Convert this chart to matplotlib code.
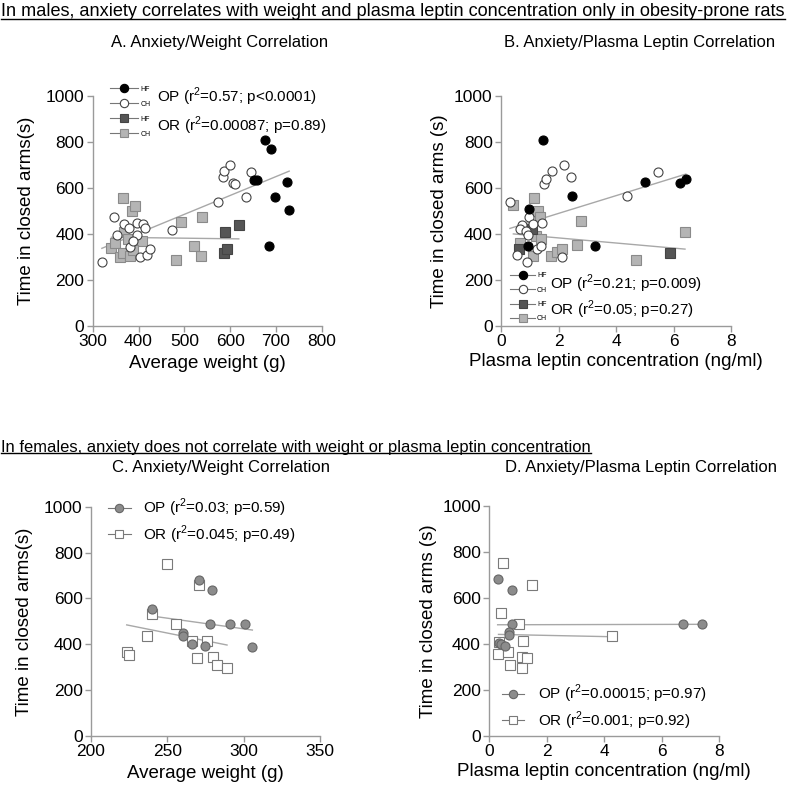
import numpy as np
import matplotlib
matplotlib.use("Agg")
import matplotlib.pyplot as plt
from matplotlib.lines import Line2D

plt.rcParams['font.family'] = ['Liberation Sans', 'DejaVu Sans']
plt.rcParams['mathtext.fontset'] = 'custom'
plt.rcParams['mathtext.rm'] = 'Liberation Sans'

# ---- A. males, anxiety vs weight ----
a_op_hf_x = [676, 689, 653, 659, 724, 697, 729, 686]
a_op_hf_y = [807, 769, 636, 636, 626, 562, 505, 345]
a_op_ch_x = [320, 346, 352, 369, 379, 397, 396, 409, 415, 381, 388, 404, 419, 425,
             473, 574, 584, 587, 599, 606, 611, 635, 645]
a_op_ch_y = [279, 473, 393, 443, 425, 446, 393, 441, 424, 344, 367, 300, 309, 334,
             415, 537, 646, 673, 698, 623, 615, 562, 669]
a_or_hf_x = [589, 619, 587, 593]
a_or_hf_y = [406, 437, 315, 332]
a_or_ch_x = [366, 385, 393, 341, 349, 360, 366, 381, 369, 378, 407, 387, 493, 538,
             481, 522, 537]
a_or_ch_y = [554, 499, 521, 340, 358, 298, 318, 303, 406, 379, 369, 329, 453, 472,
             285, 348, 305]
a_fit = {'OP': (0.8215, 74.0), 'OR': (-0.0252, 393.6)}

# ---- B. males, anxiety vs plasma leptin ----
b_op_hf_x = [1.47, 2.46, 5.02, 6.21, 6.43, 0.96, 0.95, 3.28]
b_op_hf_y = [807, 562, 626, 619, 638, 506, 346, 346]
b_op_ch_x = [0.31, 0.73, 0.67, 0.87, 0.97, 1.12, 1.41, 0.94, 0.56, 0.89, 1.24, 1.40,
             2.11, 1.51, 1.57, 1.76, 2.20, 2.43, 4.38, 5.47]
b_op_ch_y = [538, 439, 419, 413, 474, 442, 448, 393, 309, 278, 332, 345,
             299, 617, 638, 674, 699, 648, 562, 668]
b_or_hf_x = [0.61, 1.07, 5.88]
b_or_hf_y = [332, 422, 314]
b_or_ch_x = [0.43, 1.16, 1.27, 1.36, 1.21, 1.39, 0.66, 1.12, 1.74, 1.96, 2.13, 2.64,
             2.78, 4.71, 6.40]
b_or_ch_y = [523, 555, 499, 474, 390, 378, 358, 303, 303, 319, 332, 349,
             454, 286, 407]
b_fit = {'OP': (38.6, 411.0), 'OR': (-11.06, 403.8)}

# ---- C. females, anxiety vs weight ----
c_op_x = [240.0, 271.0, 279.0, 260.0, 260.0, 265.9, 274.7, 277.9, 291.0, 301.1, 305.7]
c_op_y = [552, 679, 635, 451, 437, 400, 392, 488, 487, 490, 390]
c_or_x = [249.8, 271.0, 240.0, 255.7, 236.7, 223.4, 224.9, 265.9, 275.8, 269.7,
          279.7, 282.8, 289.1]
c_or_y = [751, 657, 533, 490, 435, 365, 355, 416, 413, 339, 344, 310, 295]
c_fit = {'OP': (-0.928, 745.8), 'OR': (-1.336, 783.0)}

# ---- D. females, anxiety vs plasma leptin ----
d_op_x = [0.29, 0.79, 0.78, 0.70, 0.70, 0.35, 0.42, 0.56, 6.72, 7.39]
d_op_y = [680, 634, 488, 451, 438, 402, 398, 391, 488, 485]
d_or_x = [0.46, 1.50, 0.39, 1.04, 0.35, 0.32, 0.66, 1.16, 1.14, 1.30, 0.72, 1.14, 4.26]
d_or_y = [751, 657, 533, 488, 410, 355, 363, 411, 344, 340, 310, 295, 434]
d_fit = {'OP': (0.28, 482.9), 'OR': (-2.57, 442.0)}

labels_a = ['OP (r$^{2}$=0.57; p<0.0001)', 'OR (r$^{2}$=0.00087; p=0.89)']
labels_b = ['OP (r$^{2}$=0.21; p=0.009)', 'OR (r$^{2}$=0.05; p=0.27)']
labels_c = ['OP (r$^{2}$=0.03; p=0.59)', 'OR (r$^{2}$=0.045; p=0.49)']
labels_d = ['OP (r$^{2}$=0.00015; p=0.97)', 'OR (r$^{2}$=0.001; p=0.92)']

LINE = '#a8a8a8'
SPINE = '#9a9a9a'
styles = {
    'op_hf': dict(marker='o', mfc='black', mec='black'),
    'op_ch': dict(marker='o', mfc='white', mec='#444444'),
    'or_hf': dict(marker='s', mfc='#555555', mec='#444444'),
    'or_ch': dict(marker='s', mfc='#b4b4b4', mec='#8a8a8a'),
    'f_op': dict(marker='o', mfc='#8c8c8c', mec='#666666'),
    'f_or': dict(marker='s', mfc='white', mec='#7a7a7a'),
}

W, H = 800, 791
fig = plt.figure(figsize=(8, 7.91), dpi=100)


def make_axes(x0, x1, ytop, ybot):
    return fig.add_axes([x0 / W, 1 - ybot / H, (x1 - x0) / W, (ybot - ytop) / H])


def style_axes(ax, xlim, xticks):
    ax.set_xlim(*xlim)
    ax.set_ylim(0, 1000)
    ax.set_xticks(xticks)
    ax.set_yticks(range(0, 1001, 200))
    for s in ['top', 'right']:
        ax.spines[s].set_visible(False)
    for s in ['left', 'bottom']:
        ax.spines[s].set_color(SPINE)
        ax.spines[s].set_linewidth(1.0)
    ax.tick_params(direction='out', length=4, width=1.0, color=SPINE,
                   labelsize=12.5, pad=2)


def scatter(ax, x, y, key, ms=6.5):
    ax.plot(x, y, ls='none', ms=ms, mew=0.8, clip_on=False, zorder=3, **styles[key])


def fit_line(ax, xs, fit):
    xs = np.array(xs, dtype=float)
    xx = np.array([xs.min(), xs.max()])
    ax.plot(xx, fit[0] * xx + fit[1], color=LINE, lw=1.0, zorder=2)


def handle(key, ms=6):
    return Line2D([], [], color='#777777', lw=0.8, ms=ms, mew=0.8, **styles[key])


# ---------- A ----------
axA = make_axes(92.7, 321.7, 96, 325.7)
style_axes(axA, (300, 800), range(300, 801, 100))
fit_line(axA, a_op_hf_x + a_op_ch_x, a_fit['OP'])
fit_line(axA, a_or_hf_x + a_or_ch_x, a_fit['OR'])
scatter(axA, a_or_ch_x, a_or_ch_y, 'or_ch')
scatter(axA, a_or_hf_x, a_or_hf_y, 'or_hf')
scatter(axA, a_op_ch_x, a_op_ch_y, 'op_ch')
scatter(axA, a_op_hf_x, a_op_hf_y, 'op_hf')
axA.set_xlabel('Average weight (g)', fontsize=13.5, labelpad=4)
axA.set_ylabel('Time in closed arms(s)', fontsize=13.5, labelpad=8)
axA.legend([handle('op_hf'), handle('op_ch'), handle('or_hf'), handle('or_ch')],
           ['HF', 'CH', 'HF', 'CH'], fontsize=5, frameon=False, loc='upper left',
           bbox_to_anchor=(0.06, 1.06), borderpad=0, handlelength=4.0,
           handletextpad=0.4, labelspacing=1.15)
axA.text(0.282, 0.996, labels_a[0], transform=axA.transAxes, fontsize=11, va='center')
axA.text(0.282, 0.869, labels_a[1], transform=axA.transAxes, fontsize=11, va='center')

# ---------- B ----------
axB = make_axes(501, 731, 95.7, 325.7)
style_axes(axB, (0, 8), range(0, 9, 2))
fit_line(axB, b_op_hf_x + b_op_ch_x, b_fit['OP'])
fit_line(axB, b_or_hf_x + b_or_ch_x, b_fit['OR'])
scatter(axB, b_or_ch_x, b_or_ch_y, 'or_ch')
scatter(axB, b_or_hf_x, b_or_hf_y, 'or_hf')
scatter(axB, b_op_ch_x, b_op_ch_y, 'op_ch')
scatter(axB, b_op_hf_x, b_op_hf_y, 'op_hf')
axB.set_xlabel('Plasma leptin concentration (ng/ml)', fontsize=13.5, labelpad=3)
axB.set_ylabel('Time in closed arms (s)', fontsize=13.5, labelpad=4)
axB.legend([handle('op_hf'), handle('op_ch'), handle('or_hf'), handle('or_ch')],
           ['HF', 'CH', 'HF', 'CH'], fontsize=5, frameon=False, loc='lower left',
           bbox_to_anchor=(0.025, 0.0), borderpad=0, handlelength=3.6,
           handletextpad=0.25, labelspacing=1.05)
axB.text(0.215, 0.181, labels_b[0], transform=axB.transAxes, fontsize=11, va='center')
axB.text(0.215, 0.068, labels_b[1], transform=axB.transAxes, fontsize=11, va='center')

# ---------- C ----------
axC = make_axes(91, 320, 506.7, 736)
style_axes(axC, (200, 350), range(200, 351, 50))
fit_line(axC, c_op_x, c_fit['OP'])
fit_line(axC, c_or_x, c_fit['OR'])
scatter(axC, c_or_x, c_or_y, 'f_or')
scatter(axC, c_op_x, c_op_y, 'f_op')
axC.set_xlabel('Average weight (g)', fontsize=13.5, labelpad=4)
axC.set_ylabel('Time in closed arms(s)', fontsize=13.5, labelpad=8)
axC.legend([handle('f_op'), handle('f_or')], labels_c, fontsize=11, frameon=False,
           loc='upper left', bbox_to_anchor=(0.04, 1.075), borderpad=0,
           handlelength=1.5, handletextpad=0.8, labelspacing=0.25)

# ---------- D ----------
axD = make_axes(489.3, 719.3, 505.7, 736)
style_axes(axD, (0, 8), range(0, 9, 2))
fit_line(axD, d_op_x, d_fit['OP'])
fit_line(axD, d_or_x, d_fit['OR'])
scatter(axD, d_or_x, d_or_y, 'f_or')
scatter(axD, d_op_x, d_op_y, 'f_op')
axD.set_xlabel('Plasma leptin concentration (ng/ml)', fontsize=13.5, labelpad=3)
axD.set_ylabel('Time in closed arms (s)', fontsize=13.5, labelpad=4)
axD.legend([handle('f_op'), handle('f_or')], labels_d, fontsize=11, frameon=False,
           loc='lower left', bbox_to_anchor=(0.02, -0.015), borderpad=0,
           handlelength=1.5, handletextpad=0.9, labelspacing=0.3)

# ---------- titles and headers ----------
fig.text(220 / W, 1 - 42 / H, 'A. Anxiety/Weight Correlation', fontsize=12, ha='center', va='center')
fig.text(640 / W, 1 - 42 / H, 'B. Anxiety/Plasma Leptin Correlation', fontsize=12, ha='center', va='center')
fig.text(221 / W, 1 - 467 / H, 'C. Anxiety/Weight Correlation', fontsize=12, ha='center', va='center')
fig.text(641 / W, 1 - 467 / H, 'D. Anxiety/Plasma Leptin Correlation', fontsize=12, ha='center', va='center')

h1 = fig.text(1 / W, 1 - 12 / H,
              'In males, anxiety correlates with weight and plasma leptin concentration only in obesity-prone rats',
              fontsize=13.1, ha='left', va='center')
h2 = fig.text(1 / W, 1 - 447 / H,
              'In females, anxiety does not correlate with weight or plasma leptin concentration',
              fontsize=11.9, ha='left', va='center')

fig.canvas.draw()
renderer = fig.canvas.get_renderer()
for t in (h1, h2):
    bb = t.get_window_extent(renderer).transformed(fig.transFigure.inverted())
    fig.add_artist(Line2D([bb.x0, bb.x1], [bb.y0 + 1.5 / H, bb.y0 + 1.5 / H],
                          transform=fig.transFigure, color='black', lw=1.0))

fig.savefig('out.png', dpi=100)
